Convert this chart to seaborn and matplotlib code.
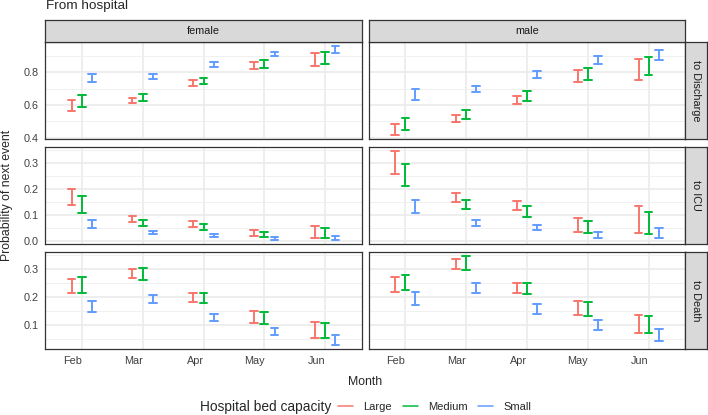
import numpy as np
import pandas as pd
import seaborn as sns
import matplotlib.pyplot as plt
from matplotlib.lines import Line2D
from matplotlib.ticker import FixedLocator

sns.set_style("white")
plt.rcParams['font.family'] = ['Liberation Sans', 'DejaVu Sans']

months = ["Feb", "Mar", "Apr", "May", "Jun"]
capacities = ["Large", "Medium", "Small"]
sexes = ["female", "male"]
events = ["to Discharge", "to ICU", "to Death"]
colors = ["#F8766D", "#00BA38", "#619CFF"]

# rows: Large, Medium, Small; columns: months
discharge_female_lo = [[0.564, 0.612, 0.715, 0.818, 0.840], [0.588, 0.622, 0.727, 0.828, 0.853], [0.739, 0.760, 0.834, 0.897, 0.917]]
discharge_female_hi = [[0.630, 0.646, 0.752, 0.863, 0.919], [0.661, 0.667, 0.768, 0.873, 0.927], [0.792, 0.788, 0.863, 0.925, 0.960]]
discharge_male_lo = [[0.418, 0.497, 0.608, 0.741, 0.756], [0.448, 0.515, 0.626, 0.756, 0.786], [0.634, 0.677, 0.768, 0.853, 0.877]]
discharge_male_hi = [[0.485, 0.537, 0.657, 0.816, 0.879], [0.519, 0.568, 0.683, 0.826, 0.893], [0.701, 0.715, 0.810, 0.901, 0.939]]

icu_female_lo = [[0.135, 0.072, 0.054, 0.016, 0.011], [0.108, 0.058, 0.042, 0.013, 0.009], [0.048, 0.024, 0.015, 0.004, 0.004]]
icu_female_hi = [[0.200, 0.094, 0.076, 0.039, 0.057], [0.170, 0.081, 0.063, 0.032, 0.047], [0.080, 0.037, 0.027, 0.014, 0.018]]
icu_male_lo = [[0.256, 0.149, 0.116, 0.035, 0.030], [0.210, 0.120, 0.090, 0.029, 0.024], [0.106, 0.058, 0.042, 0.011, 0.009]]
icu_male_hi = [[0.344, 0.184, 0.154, 0.086, 0.132], [0.296, 0.156, 0.133, 0.075, 0.109], [0.158, 0.081, 0.061, 0.033, 0.048]]

death_female_lo = [[0.216, 0.267, 0.181, 0.107, 0.052], [0.214, 0.263, 0.179, 0.105, 0.052], [0.147, 0.179, 0.115, 0.063, 0.029]]
death_female_hi = [[0.264, 0.301, 0.215, 0.149, 0.110], [0.271, 0.303, 0.215, 0.145, 0.107], [0.187, 0.207, 0.140, 0.088, 0.065]]
death_male_lo = [[0.217, 0.301, 0.215, 0.136, 0.073], [0.224, 0.297, 0.213, 0.131, 0.071], [0.173, 0.216, 0.141, 0.084, 0.042]]
death_male_hi = [[0.271, 0.338, 0.250, 0.185, 0.136], [0.281, 0.347, 0.251, 0.183, 0.134], [0.219, 0.250, 0.177, 0.117, 0.085]]

y_major = [[0.4, 0.6, 0.8], [0.0, 0.1, 0.2, 0.3], [0.1, 0.2, 0.3]]
y_minor = [[0.5, 0.7, 0.9], [0.05, 0.15, 0.25, 0.35], [0.05, 0.15, 0.25, 0.35]]

bounds = {
    ("to Discharge", "female"): (discharge_female_lo, discharge_female_hi),
    ("to Discharge", "male"): (discharge_male_lo, discharge_male_hi),
    ("to ICU", "female"): (icu_female_lo, icu_female_hi),
    ("to ICU", "male"): (icu_male_lo, icu_male_hi),
    ("to Death", "female"): (death_female_lo, death_female_hi),
    ("to Death", "male"): (death_male_lo, death_male_hi),
}

# long table: one row for each end of every interval
records = []
for (ev, sex), (lo, hi) in bounds.items():
    for ci, cap in enumerate(capacities):
        for mi, m in enumerate(months):
            records.append((ev, sex, cap, m, lo[ci][mi]))
            records.append((ev, sex, cap, m, hi[ci][mi]))
df = pd.DataFrame(records, columns=["event", "sex", "capacity", "month", "prob"])

W, H = 708, 415
fig = plt.figure(figsize=(W / 100, H / 100), dpi=100)

def rect(x0, y0, x1, y1):
    return [x0 / W, 1 - y1 / H, (x1 - x0) / W, (y1 - y0) / H]

col_x = [(45, 362), (369, 685)]
row_y = [(41.7, 139.3), (146.7, 244), (251.7, 349.3)]
edge = "#333333"

for r, ev in enumerate(events):
    sub_ev = df[df.event == ev]
    vmin, vmax = sub_ev.prob.min(), sub_ev.prob.max()
    pad = 0.05 * (vmax - vmin)
    for c, sex in enumerate(sexes):
        ax = fig.add_axes(rect(col_x[c][0], row_y[r][0], col_x[c][1], row_y[r][1]))
        sub = sub_ev[sub_ev.sex == sex]
        sns.pointplot(data=sub, x="month", y="prob", hue="capacity",
                      order=months, hue_order=capacities, palette=colors,
                      estimator="mean", errorbar=("pi", 100), dodge=0.33,
                      capsize=0.13, marker="", linestyle="none",
                      err_kws={"linewidth": 1.4}, legend=False, ax=ax)
        ax.set_xlim(-0.6, len(months) - 0.4)
        ax.set_ylim(vmin - pad, vmax + pad)
        ax.yaxis.set_major_locator(FixedLocator(y_major[r]))
        ax.yaxis.set_minor_locator(FixedLocator(y_minor[r]))
        ax.set_axisbelow(True)
        ax.grid(True, which="major", color="#EBEBEB", linewidth=1.2)
        ax.grid(True, which="minor", axis="y", color="#F0F0F0", linewidth=0.7)
        ax.set_xlabel("")
        ax.set_ylabel("")
        for s in ax.spines.values():
            s.set_color(edge)
            s.set_linewidth(0.9)
        ax.tick_params(which="major", length=2.2, width=0.7, color=edge,
                       labelsize=7.8, labelcolor="#404040", pad=2.5)
        ax.tick_params(which="minor", length=0)
        # month labels end at their tick, as in the source
        for lab in ax.get_xticklabels():
            lab.set_ha("right")
        if c == 0:
            ax.set_yticklabels([f"{v:.1f}" for v in y_major[r]])
        else:
            ax.tick_params(axis="y", which="both", left=False, labelleft=False)
        if r < len(events) - 1:
            ax.tick_params(axis="x", bottom=False, labelbottom=False)

        if r == 0:
            sax = fig.add_axes(rect(col_x[c][0], 20, col_x[c][1], 41.7))
            sax.set_facecolor("#D9D9D9")
            sax.set_xticks([])
            sax.set_yticks([])
            for s in sax.spines.values():
                s.set_color(edge)
                s.set_linewidth(0.9)
            sax.text(0.5, 0.5, sex, ha="center", va="center", fontsize=7.8,
                     color="#1A1A1A", transform=sax.transAxes)
    rax = fig.add_axes(rect(685, row_y[r][0], 707, row_y[r][1]))
    rax.set_facecolor("#D9D9D9")
    rax.set_xticks([])
    rax.set_yticks([])
    for s in rax.spines.values():
        s.set_color(edge)
        s.set_linewidth(0.9)
    rax.text(0.5, 0.5, ev, ha="center", va="center", rotation=-90,
             fontsize=7.8, color="#1A1A1A", transform=rax.transAxes)

fig.text(46 / W, 1 - 9.5 / H, "From hospital", fontsize=9.7, va="baseline", ha="left")
fig.text(365 / W, 1 - 385 / H, "Month", fontsize=8.8, va="baseline", ha="center")
fig.text(7 / W, 1 - 195.5 / H, "Probability of next event", fontsize=8.8,
         rotation=90, va="center", ha="center")
fig.text(200 / W, 1 - 411 / H, "Hospital bed capacity", fontsize=9.9,
         va="baseline", ha="left")

handles = [Line2D([], [], color=col, linewidth=1.1) for col in colors]
fig.legend(handles, capacities, ncol=3, loc="center left",
           bbox_to_anchor=(338 / W, 1 - 406.5 / H), frameon=False, fontsize=8,
           handlelength=1.35, handletextpad=0.9, columnspacing=1.0,
           borderpad=0, borderaxespad=0)

fig.savefig("out.png", dpi=100)
